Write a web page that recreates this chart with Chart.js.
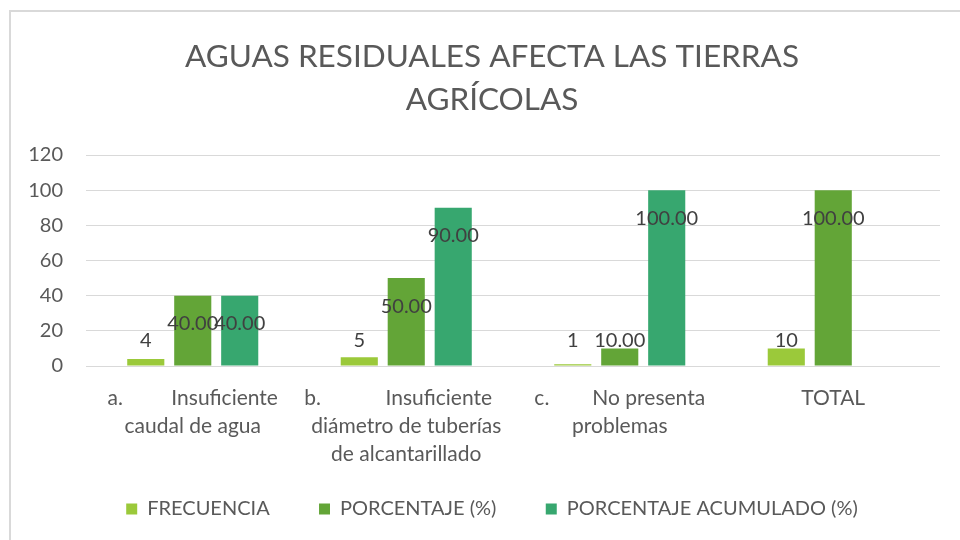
<!DOCTYPE html>
<html>
<head>
<meta charset="utf-8">
<script src="https://cdn.jsdelivr.net/npm/chart.js@4.4.1/dist/chart.umd.min.js"></script>
<style>
  html, body { margin: 0; padding: 0; background: #ffffff; overflow: hidden; }
  #frame { position: absolute; left: 9px; top: 10px; width: 960px; height: 540px;
           border-left: 2px solid #d9d9d9; border-top: 2px solid #d9d9d9; }
  #wrap { position: absolute; left: 0; top: 0; width: 960px; height: 540px; }
</style>
</head>
<body>
<div id="frame"></div>
<div id="wrap"><canvas id="c" width="960" height="540"></canvas></div>
<script>
const titleLines = ["AGUAS RESIDUALES AFECTA LAS TIERRAS", "AGRÍCOLAS"];
const categories = [
  ["a.         Insuficiente", "caudal de agua"],
  ["b.            Insuficiente   ", "diámetro de tuberías", "de alcantarillado"],
  ["c.        No presenta", "problemas"],
  "TOTAL"
];
const seriesNames = ["FRECUENCIA", "PORCENTAJE (%)", "PORCENTAJE ACUMULADO (%)"];
const frecuencia = [4, 5, 1, 10];
const porcentaje = [40, 50, 10, 100];
const acumulado = [40, 90, 100, null];
const yTicks = [0, 20, 40, 60, 80, 100, 120];
const colors = ["#9bc93a", "#63a537", "#37a76f"];

const FONT = "Lato, 'Noto Sans', sans-serif";

const labelPlugin = {
  id: 'barLabels',
  afterDatasetsDraw(chart) {
    const ctx = chart.ctx;
    const zeroY = chart.scales.y.getPixelForValue(0);
    ctx.save();
    ctx.font = "20px " + FONT;
    ctx.fillStyle = "#404040";
    ctx.textAlign = "center";
    ctx.textBaseline = "middle";
    chart.data.datasets.forEach((ds, di) => {
      const meta = chart.getDatasetMeta(di);
      meta.data.forEach((el, i) => {
        const v = ds.data[i];
        if (v === null || v === undefined) return;
        const txt = di === 0 ? String(v) : v.toFixed(2);
        const y = Math.min(el.y + 28, zeroY - 25);
        ctx.fillText(txt, el.x, y);
      });
    });
    ctx.restore();
  }
};

new Chart(document.getElementById('c'), {
  type: 'bar',
  data: {
    labels: categories,
    datasets: [
      { label: seriesNames[0], data: frecuencia, backgroundColor: colors[0] },
      { label: seriesNames[1], data: porcentaje, backgroundColor: colors[1] },
      { label: seriesNames[2], data: acumulado, backgroundColor: colors[2] }
    ]
  },
  options: {
    responsive: false,
    animation: false,
    events: [],
    categoryPercentage: 0.66,
    barPercentage: 0.79,
    layout: { padding: { left: 44, right: 20, top: 0, bottom: 11 } },
    plugins: {
      title: {
        display: true,
        text: titleLines,
        color: "#595959",
        font: { family: FONT, size: 31.5, weight: 'normal', lineHeight: 1.37 },
        padding: { top: 35.4, bottom: 33.3 }
      },
      legend: {
        position: 'bottom',
        labels: {
          color: "#595959",
          font: { family: FONT, size: 20 },
          boxWidth: 11, boxHeight: 11,
          padding: 34,
          generateLabels(chart) {
            const items = Chart.defaults.plugins.legend.labels.generateLabels(chart);
            items.forEach((it, i) => { if (i < items.length - 1) it.text = it.text + '   '; });
            return items;
          }
        }
      },
      tooltip: { enabled: false }
    },
    scales: {
      x: {
        grid: { display: false, drawTicks: false },
        border: { display: false },
        afterFit(scale) { scale.height = 99; },
        ticks: {
          color: "#595959",
          font: { family: FONT, size: 21, lineHeight: 1.333 },
          maxRotation: 0, autoSkip: false, padding: 18
        }
      },
      y: {
        min: 0, max: 120,
        afterBuildTicks(scale) { scale.ticks = yTicks.map(v => ({ value: v })); },
        afterFit(scale) {
          scale.width = 42;
          scale._computeLabelArea = () => undefined;
        },
        grid: { color: "#d9d9d9", drawTicks: false, lineWidth: 1 },
        border: { display: false },
        ticks: {
          color: "#595959",
          font: { family: FONT, size: 20 },
          padding: 23
        }
      }
    }
  },
  plugins: [labelPlugin]
});
</script>
</body>
</html>
